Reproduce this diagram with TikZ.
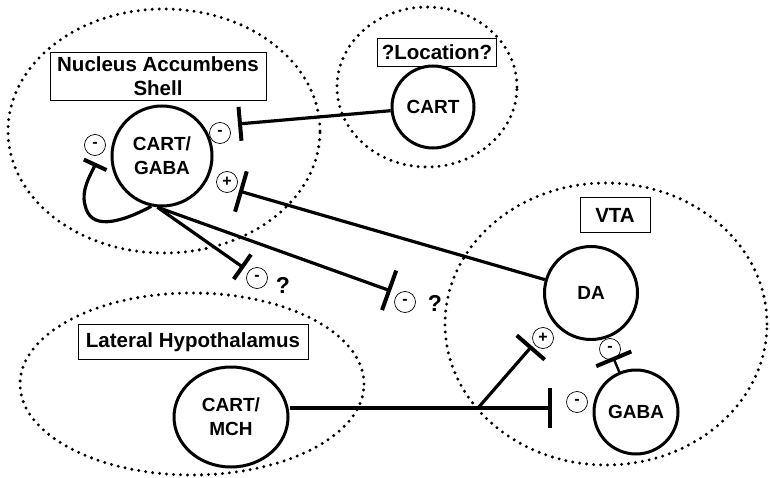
\documentclass[tikz,border=0pt]{standalone}
\usepackage{fontspec}
\setmainfont{Liberation Sans}
\usetikzlibrary{arrows.meta,shapes.geometric}

\tikzset{
  region/.style={draw,ellipse,line width=3.3pt,dash pattern=on 0pt off 7pt,line cap=round},
  cell/.style={draw,circle,line width=3pt,inner sep=0pt,font=\fontsize{19}{24}\selectfont\bfseries,align=center},
  title/.style={draw,line width=0.8pt,inner sep=0pt,font=\fontsize{20.5}{24}\selectfont\bfseries,align=center},
  sign/.style={draw,circle,line width=0.7pt,minimum size=21pt,inner sep=0pt,font=\fontsize{16}{16}\selectfont\bfseries},
  axon/.style={line width=3.2pt},
  inhib/.style={axon,-{Bar[width=#1,line width=4pt]}},
  quest/.style={font=\fontsize{23}{23}\selectfont\bfseries}
}

\begin{document}
\begin{tikzpicture}[x=1pt,y=-1pt]
  \useasboundingbox (0,0) rectangle (770,478);

  % brain regions
  \node[region,minimum width=312pt,minimum height=244pt] (nacc) at (164,131) {};
  \node[region,minimum width=180pt,minimum height=160pt] (loc) at (427,87) {};
  \node[region,minimum width=322pt,minimum height=282pt] (vta) at (606,324) {};
  \node[region,minimum width=344pt,minimum height=182pt] (lh) at (192,384) {};

  \node[title,minimum width=216pt,minimum height=48pt] (nacct) at (158,76) {Nucleus Accumbens\\Shell};
  \node[title,minimum width=119pt,minimum height=28pt] (loct) at (437,52) {?Location?};
  \node[title,minimum width=70pt,minimum height=35pt] (vtat) at (615,215) {VTA};
  \node[title,minimum width=230pt,minimum height=35pt] (lht) at (193,342) {Lateral Hypothalamus};

  % neurons
  \node[cell,minimum size=100pt] (cartgaba) at (162,156) {CART/\\GABA};
  \node[cell,minimum size=82pt] (cart) at (433,107) {CART};
  \node[cell,minimum size=93pt] (da) at (591,293) {DA};
  \node[cell,minimum size=84pt] (gaba) at (636,412) {GABA};
  \node[cell,ellipse,minimum width=114pt,minimum height=100pt] (cartmch) at (231,417) {CART/\\MCH};

  \coordinate (locend) at (238,124);
  \coordinate (daend) at (239,191);
  \coordinate (q1end) at (244,268);
  \coordinate (q2end) at (391,291);
  \coordinate (loopend) at (96,163);
  \coordinate (fork) at (478,408);
  \coordinate (branchend) at (532,346);
  \coordinate (gabaend) at (552,408);
  \coordinate (gdaend) at (613,357);

  % projections
  \draw[inhib=34pt] (cart) -- (locend);
  \draw[inhib=42pt] (da) -- (daend);
  \draw[inhib=30pt] (cartgaba.265) -- (q1end);
  \draw[inhib=42pt] (cartgaba.265) -- (q2end);
  \draw[inhib=25pt] (cartgaba.258) .. controls (118,224) and (90,230) .. (85,205)
    .. controls (81,190) and (90,176) .. (loopend);
  \draw[axon] (cartmch.east |- fork) -- (fork);
  \draw[inhib=40pt] (fork) -- (gabaend);
  \draw[inhib=37pt] (fork) -- (branchend);
  \draw[inhib=38pt,line width=2.4pt] (gaba) -- (gdaend);

  \node[sign] (s1) at (95,145) {-};
  \node[sign] (s2) at (220,133) {-};
  \node[sign] (s3) at (227,182) {+};
  \node[sign] (s4) at (257,278) {-};
  \node[sign] (s5) at (405,302) {-};
  \node[sign] (s6) at (543,338) {+};
  \node[sign] (s7) at (610,349) {-};
  \node[sign] (s8) at (577,402) {-};
  \node[quest] (qm1) at (283,285) {?};
  \node[quest] (qm2) at (435,303) {?};
\end{tikzpicture}
\end{document}
